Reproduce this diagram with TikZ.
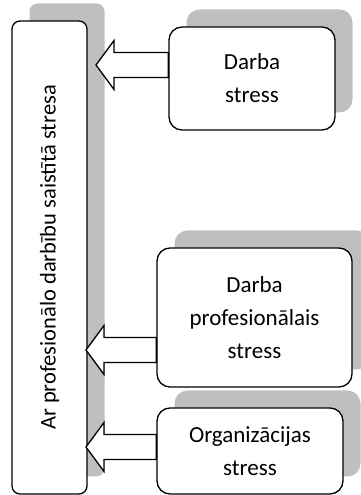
\documentclass[tikz,border=0pt]{standalone}
\usepackage{fontspec}
\setmainfont{Carlito}
\usetikzlibrary{calc}
\usetikzlibrary{shadows}

\newcommand{\blockarrow}[2]{%
  \draw[barrow] (#1) -- ++(18,24.5) |- ($(#1 -| #2.west)+(0,12.5)$)
    -- ($(#1 -| #2.west)+(0,-12.5)$) -| ($(#1)+(18,-24.5)$) -- cycle;
}

\begin{document}
\begin{tikzpicture}[%
  x=1pt, y=1pt,
  box/.style={draw=black, line width=1.3pt, fill=white, rounded corners=13pt,
    align=center, inner sep=0pt, font=\fontsize{23}{33}\selectfont,
    drop shadow={shadow xshift=17.5pt, shadow yshift=17.5pt,
      fill=black!25, opacity=1}},
  barrow/.style={draw=black, line width=1.3pt, fill=white, line join=miter},
]

  \useasboundingbox (0,0) rectangle (361,495);

  \node[box, rounded corners=8pt, minimum width=75pt, minimum height=473pt,
    font=\fontsize{22.5}{27}\selectfont]
    (L) at (49.5,237.5) {\rotatebox{90}{Ar profesionālo darbību saistītā stresa}};

  \node[box, minimum width=166pt, minimum height=103pt]
    (D) at (252,416.5) {Darba\\stress};
  \node[box, minimum width=195pt, minimum height=139pt]
    (P) at (254.5,177.5) {Darba\\profesionālais\\stress};
  \node[box, minimum width=186pt, minimum height=86pt]
    (O) at (250,44) {Organizācijas\\stress};

  \coordinate (t1) at (96,430);
  \coordinate (t2) at (86,145);
  \coordinate (t3) at (86,48);

  \blockarrow{t1}{D}
  \blockarrow{t2}{P}
  \blockarrow{t3}{O}

\end{tikzpicture}
\end{document}
